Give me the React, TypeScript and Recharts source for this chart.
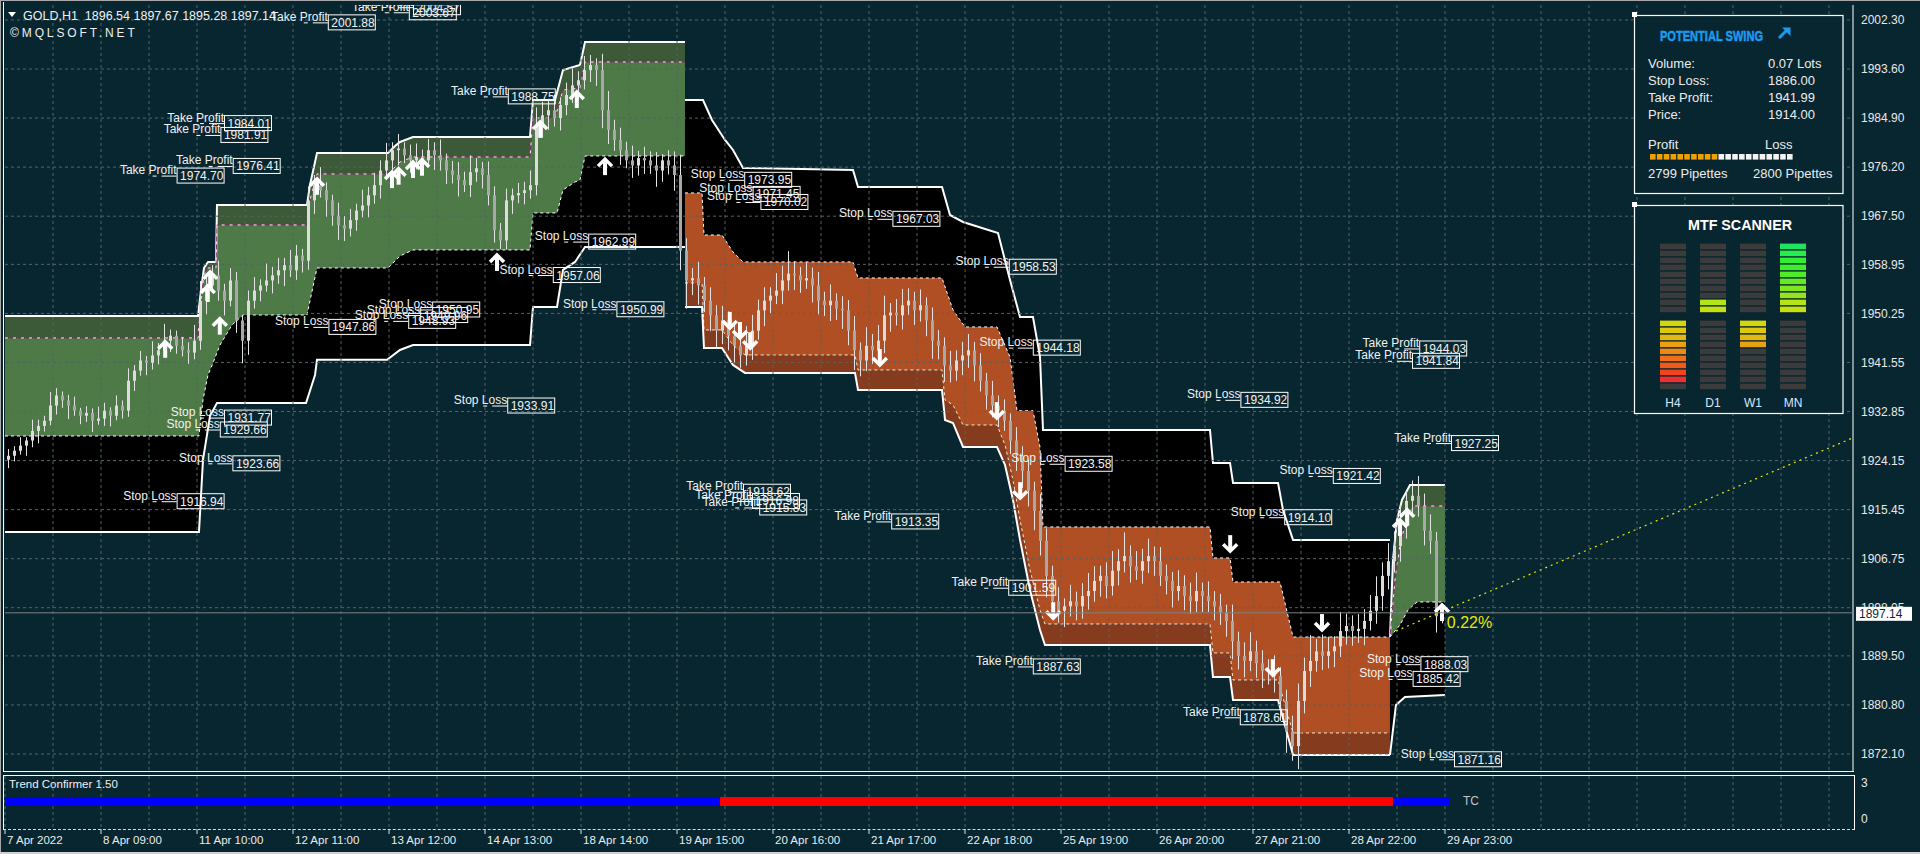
import React from "react";
import {
  Area,
  Bar,
  BarChart,
  CartesianGrid,
  ComposedChart,
  Line,
  ReferenceArea,
  ReferenceLine,
  Scatter,
  XAxis,
  YAxis,
} from "recharts";

// MT4 GOLD,H1 mit Swing-Indikator, Trend Confirmer und MTF Scanner

const BG = "#082630";
const FONT = "'Liberation Sans', Arial, sans-serif";
const W = 1920;
const MAIN_H = 775;

// ---- Achsen ----
const priceTicks = [2002.3, 1993.6, 1984.9, 1976.2, 1967.5, 1958.95, 1950.25, 1941.55, 1932.85, 1924.15, 1915.45, 1906.75, 1898.05, 1889.5, 1880.8, 1872.1];
const priceDomain = [1869.08, 2004.96];
const slotDomain = [-0.5, 307.5];
const slotCount = 308;
const timeLabels = ["7 Apr 2022", "8 Apr 09:00", "11 Apr 10:00", "12 Apr 11:00", "13 Apr 12:00", "14 Apr 13:00", "18 Apr 14:00", "19 Apr 15:00", "20 Apr 16:00", "21 Apr 17:00", "22 Apr 18:00", "25 Apr 19:00", "26 Apr 20:00", "27 Apr 21:00", "28 Apr 22:00", "29 Apr 23:00"];
const gridSlots = Array.from({ length: 39 }, (_, k) => k * 8 - 0.5);
const lastPrice = 1897.14;
const headerText = "GOLD,H1  1896.54 1897.67 1895.28 1897.14";

// ---- Kerzen (Open = vorheriger Close) ----
const firstOpen = 1924.3;
const closes = [
  1925.0, 1925.9, 1926.8, 1927.7, 1929.4, 1930.3, 1931.2, 1933.9, 1935.7, 1934.8,
  1933.9, 1933.0, 1932.1, 1932.6, 1931.2, 1931.6, 1933.0, 1932.1, 1933.9, 1933.0,
  1938.3, 1940.1, 1941.9, 1941.5, 1942.8, 1943.7, 1945.4, 1946.3, 1944.5, 1943.7,
  1943.3, 1945.4, 1952.5, 1955.2, 1957.0, 1954.3, 1952.5, 1956.1, 1949.0, 1945.4,
  1952.5, 1954.3, 1955.2, 1956.1, 1957.0, 1957.9, 1958.8, 1957.9, 1960.5, 1959.6,
  1970.3, 1973.0, 1972.1, 1970.3, 1967.6, 1965.9, 1965.3, 1966.8, 1968.5, 1969.4,
  1971.2, 1973.0, 1975.6, 1977.4, 1979.2, 1979.5, 1978.3, 1977.4, 1978.0, 1977.4,
  1979.2, 1978.3, 1977.4, 1975.6, 1974.8, 1973.9, 1973.0, 1975.3, 1976.0, 1974.8,
  1971.2, 1965.0, 1963.2, 1970.3, 1971.2, 1971.6, 1972.1, 1973.0, 1983.6, 1985.4,
  1986.3, 1984.9, 1987.2, 1989.0, 1990.7, 1991.6, 1993.4, 1994.3, 1993.4, 1986.3,
  1982.8, 1981.0, 1979.2, 1977.4, 1976.5, 1977.8, 1977.4, 1976.5, 1975.6, 1977.4,
  1976.5, 1974.8, 1961.4, 1956.1, 1956.5, 1955.2, 1952.5, 1949.9, 1947.2, 1949.0,
  1946.3, 1944.5, 1942.8, 1944.5, 1947.2, 1950.8, 1952.5, 1953.4, 1954.3, 1956.1,
  1957.3, 1957.0, 1956.1, 1956.5, 1955.2, 1952.5, 1951.7, 1952.5, 1951.1, 1950.8,
  1947.2, 1943.7, 1941.9, 1944.5, 1943.7, 1945.4, 1949.9, 1950.4, 1949.9, 1951.7,
  1952.5, 1950.8, 1951.7, 1949.0, 1945.4, 1944.5, 1941.0, 1940.1, 1941.9, 1942.8,
  1943.7, 1941.0, 1938.3, 1935.7, 1933.9, 1933.0, 1931.2, 1927.7, 1925.0, 1922.3,
  1918.8, 1915.2, 1909.9, 1903.7, 1899.2, 1897.5, 1898.3, 1899.2, 1898.3, 1900.1,
  1901.0, 1902.8, 1903.7, 1901.9, 1904.6, 1906.3, 1907.2, 1905.4, 1904.6, 1906.3,
  1907.2, 1906.3, 1903.7, 1902.8, 1901.0, 1901.9, 1900.1, 1899.2, 1901.0, 1900.1,
  1899.2, 1898.3, 1897.1, 1895.7, 1892.1, 1889.5, 1888.6, 1890.3, 1888.2, 1886.8,
  1887.1, 1885.9, 1881.5, 1876.1, 1873.5, 1881.5, 1886.8, 1888.6, 1890.3, 1889.5,
  1890.3, 1891.2, 1893.9, 1894.8, 1893.9, 1894.3, 1895.7, 1897.5, 1900.1, 1903.7,
  1906.3, 1909.0, 1913.4, 1917.0, 1917.9, 1916.1, 1911.7, 1909.9, 1896.54, 1897.14,
];
const wickUp = [
  1.2, 0.8, 1.5, 0.6, 2.0, 1.1, 0.9, 2.4, 1.3, 0.7, 1.0, 1.6, 0.5, 1.2, 0.8, 2.1, 1.4, 0.6, 1.8, 0.9,
  2.2, 1.0, 1.7, 0.8, 2.5, 1.3, 3.0, 1.1, 0.9, 1.6, 1.4, 2.8, 3.5, 2.0, 1.8, 2.6, 1.2, 2.2, 1.5, 1.0,
  1.8, 2.4, 1.1, 3.0, 1.5, 2.2, 1.3, 2.7, 1.9, 1.2, 2.5, 1.8, 3.2, 1.4, 1.0, 2.3, 1.6, 2.0, 1.2, 2.8,
  1.5, 2.2, 1.8, 3.1, 1.4, 2.6, 1.1, 1.9, 2.4, 1.3, 2.0, 1.4, 2.8, 1.2, 1.7, 2.3, 1.5, 3.0, 1.8, 1.1,
  2.4, 1.6, 1.3, 2.1, 1.2, 1.8, 1.5, 2.6, 3.2, 2.4, 1.9, 2.8, 1.4, 2.2, 3.0, 1.6, 2.5, 1.8, 1.2, 2.9,
  3.4, 1.8, 2.2, 1.5, 2.6, 1.3, 2.0, 1.6, 2.4, 1.1, 1.8, 2.5, 3.6, 2.2, 1.8, 2.9, 1.5, 2.4, 1.8, 2.6,
  1.6, 2.2, 1.4, 3.5, 2.8, 1.9, 2.4, 1.5, 3.1, 2.6, 4.0, 2.2, 1.5, 2.8, 1.9, 2.4, 1.6, 2.9, 1.3, 2.2,
  1.8, 2.6, 1.4, 3.3, 2.1, 2.8, 3.5, 1.7, 2.4, 2.9, 2.2, 1.6, 2.8, 1.4, 2.3, 1.9, 1.5, 2.6, 1.8, 2.4,
  2.9, 1.5, 2.2, 1.4, 2.6, 1.8, 2.0, 1.3, 2.4, 1.7, 2.1, 1.6, 3.0, 2.2, 1.8, 2.5, 1.4, 2.9, 1.7, 2.3,
  3.2, 2.6, 1.8, 2.4, 3.5, 2.1, 4.2, 1.9, 2.7, 2.2, 3.1, 1.7, 2.5, 2.0, 1.6, 2.8, 1.9, 2.4, 3.3, 1.5,
  2.6, 1.8, 2.2, 1.5, 2.9, 1.7, 2.4, 3.4, 1.9, 2.3, 1.8, 2.5, 1.6, 2.0, 2.8, 3.1, 2.4, 4.6, 2.2, 3.0,
  2.6, 1.8, 3.4, 2.2, 1.9, 2.6, 2.1, 2.8, 3.5, 2.4, 3.2, 2.6, 2.9, 1.8, 2.7, 3.5, 2.2, 2.9, 1.6, 0.53,
];
const wickDn = [
  1.5, 1.0, 0.7, 1.8, 1.2, 2.2, 1.0, 0.8, 1.6, 1.3, 2.4, 0.9, 1.5, 1.1, 2.0, 0.7, 1.3, 1.9, 0.8, 1.4,
  1.1, 1.8, 0.9, 2.2, 1.2, 1.6, 0.8, 2.0, 1.4, 1.1, 2.0, 1.2, 1.6, 2.4, 1.3, 1.8, 2.6, 1.0, 2.2, 4.0,
  2.5, 1.4, 1.9, 1.1, 2.3, 1.5, 2.8, 1.2, 1.7, 2.1, 1.6, 2.4, 1.3, 2.9, 1.8, 2.6, 2.2, 1.4, 1.9, 1.2,
  2.1, 1.5, 2.4, 1.2, 1.8, 2.7, 1.4, 2.2, 1.6, 2.5, 1.3, 2.6, 1.8, 2.4, 1.5, 2.9, 1.2, 2.1, 1.7, 2.4,
  1.8, 2.2, 1.5, 1.6, 2.4, 1.4, 2.0, 1.5, 1.8, 2.2, 2.6, 1.5, 2.2, 1.8, 1.4, 2.5, 1.6, 2.1, 2.8, 3.2,
  2.5, 1.9, 2.6, 1.4, 2.2, 1.8, 2.4, 1.5, 2.9, 2.0, 1.6, 2.8, 3.5, 5.0, 2.6, 3.4, 2.0, 2.8, 3.1, 2.4,
  2.6, 3.0, 2.2, 1.8, 2.5, 1.6, 2.8, 2.2, 1.5, 2.4, 1.8, 2.6, 2.2, 1.5, 3.0, 2.4, 1.9, 2.8, 2.0, 3.3,
  2.6, 3.5, 2.8, 1.9, 2.4, 1.6, 2.2, 2.9, 1.8, 2.5, 1.7, 2.6, 2.0, 2.8, 3.2, 2.4, 2.9, 2.1, 1.8, 2.6,
  2.2, 2.8, 1.9, 2.5, 2.1, 2.9, 1.8, 2.4, 2.7, 3.0, 2.8, 3.4, 2.6, 3.8, 2.4, 2.1, 2.9, 1.8, 2.5, 2.2,
  2.4, 1.9, 2.8, 2.2, 1.7, 2.6, 2.0, 2.9, 1.6, 2.3, 2.1, 2.6, 1.8, 2.4, 2.9, 1.7, 2.5, 2.2, 1.9, 2.8,
  1.9, 2.5, 2.1, 2.8, 3.2, 2.4, 2.9, 1.8, 2.6, 3.0, 2.4, 2.9, 3.5, 3.8, 2.6, 4.1, 2.2, 2.8, 1.9, 2.5,
  2.2, 2.8, 1.9, 2.4, 2.6, 2.1, 2.9, 1.7, 2.3, 2.6, 2.4, 2.0, 2.8, 3.1, 2.5, 1.9, 2.6, 2.3, 2.9, 1.26,
];

// ---- Swing-Bänder [slot, preis] ----
type Pt = [number, number];
// Aufwärts 1
const upTop1: Pt[] = [[-0.5, 1949.8], [31.67, 1949.8], [32.17, 1954.41], [32.67, 1958.31], [33.33, 1959.38], [34.67, 1959.38], [34.83, 1969.48], [49.83, 1969.48], [50.33, 1973.04], [51.5, 1978.71], [63.33, 1978.71], [64.5, 1979.95], [65.33, 1980.66], [67.5, 1981.55], [87, 1981.55], [87.5, 1988.11], [91.17, 1988.11], [92.5, 1993.43], [95.33, 1994.32], [96.17, 1998.4], [112.83, 1998.4]];
const upStrip1: Pt[] = [[-0.5, 1945.9], [31.67, 1945.9], [32.17, 1952.64], [32.67, 1957.07], [33.33, 1958.31], [34.67, 1958.31], [34.83, 1965.94], [49.83, 1965.94], [50.33, 1970.37], [51.5, 1974.99], [63.33, 1974.99], [65.33, 1977.11], [67.5, 1978.0], [87, 1978.0], [87.5, 1984.92], [91.17, 1984.92], [92.5, 1989.89], [95.33, 1990.24], [96.17, 1994.85], [112.83, 1994.85]];
const upEntry1: Pt[] = [[-0.5, 1928.51], [31.83, 1928.51], [32.5, 1934.9], [33.33, 1939.33], [34.17, 1941.46], [35.33, 1944.65], [37.33, 1948.2], [39.17, 1949.97], [49.83, 1949.97], [51.5, 1958.31], [63.33, 1958.31], [65.33, 1960.44], [67.5, 1961.51], [87, 1961.51], [87.5, 1968.07], [91.5, 1968.07], [92.5, 1972.15], [94.5, 1973.57], [95.33, 1973.92], [96.17, 1978.18], [112.83, 1978.18]];
const upStop1: Pt[] = [[-0.5, 1911.48], [31.83, 1911.48], [32.5, 1924.26], [33.67, 1932.09], [34.83, 1934.37], [49.67, 1934.37], [51.17, 1939.33], [51.5, 1942.01], [63.17, 1942.01], [65.33, 1943.77], [67.5, 1944.65], [87, 1944.65], [87.5, 1951.39], [91.5, 1951.39], [92.5, 1957.96], [94.5, 1959.38], [96.17, 1962.04], [112.83, 1962.04]];
// Abwärts 2
const dnStop2: Pt[] = [[112.83, 1988.11], [115.83, 1988.11], [117.33, 1984.56], [119.5, 1981.02], [120.83, 1979.24], [122.5, 1976.05], [140.83, 1975.7], [141.67, 1972.68], [155.67, 1972.68], [157, 1967.71], [159.17, 1966.47], [165, 1964.52], [167, 1956.18], [168.67, 1949.62], [170.83, 1949.62], [172, 1942.53], [172.5, 1929.57], [200.33, 1929.57], [200.83, 1923.72], [203.67, 1923.72], [204.17, 1920.18], [211.67, 1920.18], [212.5, 1915.38], [214.17, 1910.07], [230.33, 1910.07]];
const dnEntry2: Pt[] = [[112.83, 1971.62], [115.67, 1971.62], [116, 1964.16], [119, 1964.16], [120.83, 1961.15], [122.5, 1959.38], [140.83, 1959.38], [141.67, 1956.54], [155.67, 1956.54], [157.5, 1950.86], [159.5, 1947.85], [164.83, 1947.85], [167, 1942.53], [168.17, 1932.98], [170.83, 1932.98], [172, 1926.56], [172.5, 1912.37], [200.33, 1912.37], [200.83, 1906.87], [203.67, 1906.87], [204.17, 1902.61], [212, 1902.61], [214.17, 1892.85], [230.33, 1892.85]];
const dnStrip2: Pt[] = [[112.83, 1955.65], [115.67, 1955.65], [116, 1947.32], [119, 1947.32], [120.83, 1944.65], [122.83, 1942.88], [141.17, 1942.88], [141.67, 1940.22], [155.67, 1940.22], [156.17, 1934.9], [157.5, 1934.01], [159.17, 1930.46], [164.83, 1930.46], [166.17, 1926.92], [167.5, 1920.71], [168.67, 1913.62], [170.33, 1904.75], [172, 1897.64], [172.83, 1895.16], [200.33, 1895.16], [200.83, 1890.02], [203.67, 1890.02], [204.17, 1885.23], [211.67, 1885.23], [214.17, 1875.83], [230.33, 1875.83]];
const dnBase2: Pt[] = [[112.83, 1951.39], [115.67, 1951.39], [116, 1944.12], [119, 1944.12], [120.83, 1941.11], [122.83, 1939.69], [141.17, 1939.69], [141.67, 1936.67], [155.67, 1936.67], [156.17, 1931.35], [157.5, 1930.82], [159.17, 1926.56], [164.83, 1926.56], [166.17, 1923.37], [167.5, 1917.16], [168.67, 1910.07], [170.33, 1901.19], [172, 1894.1], [172.83, 1891.43], [200.33, 1891.43], [200.83, 1885.76], [203.67, 1885.76], [204.17, 1881.68], [211.67, 1881.68], [214.17, 1871.93], [230.33, 1871.93]];
// Aufwärts 3
const upTop3: Pt[] = [[230.33, 1892.85], [230.83, 1906.52], [231.5, 1913.62], [232.33, 1917.16], [233.67, 1919.82], [239.5, 1919.82]];
const upStrip3: Pt[] = [[230.33, 1892.85], [231.17, 1902.97], [232, 1909.18], [232.83, 1912.72], [234.17, 1916.09], [239.5, 1916.09]];
const upEntry3: Pt[] = [[230.33, 1892.85], [232, 1894.98], [233.33, 1897.64], [234.83, 1899.06], [239.5, 1899.06]];
const upStop3: Pt[] = [[230.33, 1871.93], [230.83, 1876.36], [231.33, 1880.8], [232.83, 1882.22], [239.5, 1882.57]];

const projection: Pt[] = [[231.33, 1893.92], [307.5, 1928.19]];

// ---- Pfeile und Level-Beschriftungen ----
const upArrows: Pt[] = [[26.2, 1943.8], [33.7, 1956.2], [33.3, 1953.7], [35.3, 1947.9], [51.5, 1972.7], [64.0, 1973.9], [65.1, 1974.5], [67.5, 1975.7], [69.0, 1976.1], [81.5, 1959.2], [88.7, 1982.8], [94.8, 1988.1], [99.5, 1976.2], [232.0, 1912.2], [233.2, 1914.0], [239.0, 1897.1]];
const downArrows: Pt[] = [[120.3, 1949.1], [122.0, 1947.3], [123.7, 1945.5], [145.3, 1942.5], [164.8, 1933.1], [168.7, 1918.9], [174.2, 1897.6], [203.7, 1909.5], [210.8, 1887.5], [219.0, 1895.5]];
const takeProfits: Pt[] = [[53.3, 2001.88], [67.5, 2004.57], [66.8, 2003.67], [36.0, 1984.01], [35.4, 1981.91], [37.45, 1976.41], [28.1, 1974.7], [83.3, 1988.75], [122.5, 1918.62], [124.0, 1916.98], [125.2, 1915.83], [147.2, 1913.35], [166.7, 1901.59], [170.8, 1887.63], [205.3, 1878.61], [235.2, 1944.03], [234.0, 1941.84], [240.5, 1927.25]];
const stopLosses: Pt[] = [[96.7, 1962.99], [90.8, 1957.06], [101.4, 1950.99], [53.4, 1947.86], [70.7, 1950.95], [68.7, 1949.96], [66.7, 1948.93], [83.2, 1933.91], [36.0, 1931.77], [35.3, 1929.66], [37.4, 1923.66], [28.1, 1916.94], [122.7, 1973.95], [124.1, 1971.45], [125.4, 1970.02], [147.4, 1967.03], [166.8, 1958.53], [170.8, 1944.18], [205.4, 1934.92], [176.1, 1923.58], [220.8, 1921.42], [212.7, 1914.1], [235.4, 1888.03], [234.1, 1885.42], [241.0, 1871.16]];
const changeLabel = { x: 239.8, y: 1894.45, text: "0.22%" };

// ---- Trend Confirmer: [von, bis, richtung] ----
const trendRuns = [[-0.5, 118.67, 1], [118.67, 230.83, -1], [230.83, 240.17, 1]];

// ---- Panels ----
const swingRows = [["Volume:", "0.07 Lots"], ["Stop Loss:", "1886.00"], ["Take Profit:", "1941.99"], ["Price:", "1914.00"]];
const profitPipettes = 2799;
const lossPipettes = 2800;
const profitCells = 10;
const lossCells = 11;
const scannerFrames = ["H4", "D1", "W1", "MN"];
const scannerStrength = [-9, 2, -4, 10];

const UP_COLORS = ["#c6e010", "#b2e416", "#98e41c", "#80e620", "#66e824", "#50ec28", "#3ef02c", "#30f036", "#26ec4c", "#20e460"];
const DN_COLORS = ["#d6d60c", "#dec810", "#e4b810", "#eaa014", "#ee8818", "#f0701a", "#f05a1c", "#f0441e", "#f03030", "#e02828"];

const toXY = (a: Pt[]) => a.map(([x, y]) => ({ x, y }));

const candleRows = Array.from({ length: slotCount }, (_, i) => {
  if (i >= closes.length) return { i };
  const o = i === 0 ? firstOpen : closes[i - 1];
  const c = closes[i];
  return { i, o, c, h: Math.max(o, c) + wickUp[i], l: Math.min(o, c) - wickDn[i] };
});

const bandFills = [
  { id: "t1", pts: upTop1, fill: "#3c5a37" },
  { id: "p1", pts: upStrip1, fill: "#4e7a48" },
  { id: "g1", pts: upEntry1, fill: "#000000" },
  { id: "s1", pts: upStop1, fill: BG },
  { id: "s2", pts: dnStop2, fill: "#000000" },
  { id: "o2", pts: dnEntry2, fill: "#b04e24" },
  { id: "d2", pts: dnStrip2, fill: "#853c1e" },
  { id: "b2", pts: dnBase2, fill: BG },
  { id: "t3", pts: upTop3, fill: "#3c5a37" },
  { id: "p3", pts: upStrip3, fill: "#4e7a48" },
  { id: "g3", pts: upEntry3, fill: "#000000" },
  { id: "s3", pts: upStop3, fill: BG },
];

const bandLines = [
  { id: "t1", pts: upTop1, stroke: "#ffffff", w: 2 },
  { id: "p1a", pts: upStrip1, stroke: "#8c2a6c", w: 1 },
  { id: "p1b", pts: upStrip1, stroke: "#f0f0f0", w: 1, dash: "3 5" },
  { id: "g1", pts: upEntry1, stroke: "#ffffff", w: 1, dash: "3 3" },
  { id: "s1", pts: upStop1, stroke: "#ffffff", w: 2 },
  { id: "s2", pts: dnStop2, stroke: "#ffffff", w: 2 },
  { id: "o2", pts: dnEntry2, stroke: "#ffffff", w: 1, dash: "3 3" },
  { id: "d2", pts: dnStrip2, stroke: "#e8eed8", w: 1, dash: "3 3" },
  { id: "b2", pts: dnBase2, stroke: "#ffffff", w: 2 },
  { id: "t3", pts: upTop3, stroke: "#ffffff", w: 2 },
  { id: "p3a", pts: upStrip3, stroke: "#8c2a6c", w: 1 },
  { id: "p3b", pts: upStrip3, stroke: "#f0f0f0", w: 1, dash: "3 5" },
  { id: "g3", pts: upEntry3, stroke: "#ffffff", w: 1, dash: "3 3" },
  { id: "s3", pts: upStop3, stroke: "#ffffff", w: 2 },
];

const arrowMarks = [
  ...upArrows.map(([x, y]) => ({ x, y, dir: 1 })),
  ...downArrows.map(([x, y]) => ({ x, y, dir: -1 })),
];
const levelMarks = [
  ...takeProfits.map(([x, y]) => ({ x, y, kind: "Take Profit" })),
  ...stopLosses.map(([x, y]) => ({ x, y, kind: "Stop Loss" })),
];

const scannerRows = scannerFrames.map((frame, c) => {
  const row: any = { frame, strength: scannerStrength[c] };
  for (let b = 0; b < 21; b++) row[`seg${b}`] = 1;
  return row;
});

// segment k von oben: 0..9 obere Gruppe, 10 Lücke, 11..20 untere Gruppe
const segColor = (strength: number, k: number) => {
  if (k === 10) return "none";
  if (k < 10) {
    const j = 9 - k;
    return j < strength ? UP_COLORS[j] : "#3b3b3b";
  }
  const j = k - 11;
  return j < -strength ? DN_COLORS[j] : "#3b3b3b";
};

const Candle = (props: any) => {
  const { x, y, width, height, payload } = props;
  if (!payload || payload.h == null || !isFinite(y) || !isFinite(height)) return <g />;
  const top = Math.min(y, y + height);
  const bot = Math.max(y, y + height);
  const span = payload.h - payload.l;
  const py = (p: number) => top + ((payload.h - p) / span) * (bot - top);
  const cx = Math.round(x + width / 2) + 0.5;
  const yo = py(payload.o);
  const yc = py(payload.c);
  const bt = Math.min(yo, yc);
  const bh = Math.max(1, Math.abs(yo - yc));
  const bull = payload.c >= payload.o;
  return (
    <g>
      <line x1={cx} x2={cx} y1={top} y2={bot} stroke="#e4e4e4" strokeWidth={1} />
      <rect x={cx - 1.5} y={bt} width={3} height={bh} fill={bull ? "#dcdcdc" : "#a8a8a8"} />
    </g>
  );
};

const ArrowMark = (props: any) => {
  const { cx, cy, payload } = props;
  if (cx == null || cy == null) return <g />;
  const s = payload.dir > 0 ? -1 : 1;
  const tip = cy + s * 8;
  return (
    <g>
      <line x1={cx} x2={cx} y1={cy - s * 8} y2={tip - s * 2} stroke="#ffffff" strokeWidth={4} />
      <path d={`M${cx - 7},${cy + s * 1} L${cx},${tip} L${cx + 7},${cy + s * 1}`} fill="none" stroke="#ffffff" strokeWidth={3.5} />
    </g>
  );
};

const LevelLabel = (props: any) => {
  const { cx, cy, payload } = props;
  if (cx == null || cy == null) return <g />;
  return (
    <g fontFamily={FONT} fontSize={12} fill="#f2f2f2">
      <text x={cx} y={cy - 1.5} textAnchor="end">{payload.kind}</text>
      <line x1={cx - 24} x2={cx} y1={cy + 0.5} y2={cy + 0.5} stroke="#ffffff" strokeDasharray="4 5 15" />
      <rect x={cx + 0.5} y={cy - 7.5} width={47} height={15} fill="none" stroke="#ffffff" />
      <text x={cx + 3.5} y={cy + 4.5}>{payload.y.toFixed(2)}</text>
    </g>
  );
};

const ChangeText = (props: any) => {
  const { cx, cy, payload } = props;
  if (cx == null || cy == null) return <g />;
  return (
    <text x={cx} y={cy} fill="#e8e800" fontSize={16} fontFamily={FONT}>{payload.text}</text>
  );
};

const PriceTag = (props: any) => {
  const vb = props.viewBox;
  if (!vb) return null;
  const x = vb.x + vb.width + 3;
  return (
    <g>
      <rect x={x} y={vb.y - 6} width={56} height={14} fill="#ffffff" />
      <text x={x + 3} y={vb.y + 5} fontSize={12} fill="#0c1f44" fontFamily={FONT}>{lastPrice.toFixed(2)}</text>
    </g>
  );
};

// Rasterticks alle 8 Slots, beschriftet wird jeder zweite
const TimeTick = (props: any) => {
  const { x, y, payload } = props;
  const step = (payload.value + 0.5) / 8;
  if (Math.round(step) % 2 !== 0) return <g />;
  const label = timeLabels[Math.round(step) / 2];
  if (!label) return <g />;
  return (
    <g>
      <line x1={x} x2={x} y1={y} y2={y + 5} stroke="#e0e0e0" />
      <text x={x + 2} y={y + 15} fill="#ececec" fontSize={11.5} fontFamily={FONT}>{label}</text>
    </g>
  );
};

const layer = (top: number, z: number): React.CSSProperties => ({ position: "absolute", left: 0, top, zIndex: z });
const mainMargin = { top: 5, right: 67, bottom: 4, left: 5 };

export default function App() {
  return (
    <div style={{ position: "absolute", left: 0, top: 0, width: W, height: 854, background: BG, overflow: "hidden", fontFamily: FONT }}>
      {/* Bänder */}
      <div style={layer(0, 1)}>
        <ComposedChart width={W} height={MAIN_H} margin={mainMargin}>
          <XAxis type="number" dataKey="x" domain={slotDomain} allowDataOverflow hide />
          <YAxis type="number" dataKey="y" domain={priceDomain} allowDataOverflow hide />
          {bandFills.map((b) => (
            <Area key={`f-${b.id}`} data={toXY(b.pts)} dataKey="y" type="linear" fill={b.fill} fillOpacity={1} stroke="none" baseValue="dataMin" isAnimationActive={false} />
          ))}
          {bandLines.map((b) => (
            <Line key={`l-${b.id}`} data={toXY(b.pts)} dataKey="y" type="linear" stroke={b.stroke} strokeWidth={b.w} strokeDasharray={b.dash} dot={false} activeDot={false} isAnimationActive={false} />
          ))}
        </ComposedChart>
      </div>

      {/* Raster */}
      <div style={layer(0, 2)}>
        <ComposedChart width={W} height={MAIN_H} margin={mainMargin}>
          <XAxis type="number" dataKey="x" domain={slotDomain} ticks={gridSlots} allowDataOverflow hide />
          <YAxis type="number" dataKey="y" domain={priceDomain} ticks={priceTicks} allowDataOverflow hide />
          <CartesianGrid stroke="#55636a" strokeDasharray="3 3" horizontalValues={priceTicks} verticalValues={gridSlots} />
        </ComposedChart>
      </div>

      {/* Kerzen */}
      <div style={layer(0, 3)}>
        <ComposedChart width={W} height={MAIN_H} data={candleRows} margin={mainMargin} barCategoryGap={0} barGap={0}>
          <XAxis dataKey="i" hide />
          <YAxis type="number" domain={priceDomain} allowDataOverflow hide />
          <Bar dataKey={(r: any) => (r.h == null ? null : [r.l, r.h])} shape={<Candle />} isAnimationActive={false} />
        </ComposedChart>
      </div>

      {/* Pfeile, Level, Preisachse */}
      <div style={layer(0, 4)}>
        <ComposedChart width={W} height={MAIN_H} margin={{ top: 5, right: 0, bottom: 4, left: 5 }}>
          <XAxis type="number" dataKey="x" domain={slotDomain} allowDataOverflow hide />
          <YAxis
            type="number"
            dataKey="y"
            orientation="right"
            width={67}
            domain={priceDomain}
            allowDataOverflow
            ticks={priceTicks}
            interval={0}
            tickFormatter={(v: number) => v.toFixed(2)}
            tick={{ fill: "#e8e8e8", fontSize: 12, fontFamily: FONT }}
            axisLine={{ stroke: "#ffffff" }}
            tickLine={false}
            tickSize={6}
            tickMargin={2}
          />
          <Line data={toXY(projection)} dataKey="y" type="linear" stroke="#e6e600" strokeWidth={1.2} strokeDasharray="2 4" dot={false} activeDot={false} isAnimationActive={false} />
          <Scatter data={levelMarks} shape={(p: any) => <LevelLabel {...p} />} isAnimationActive={false} />
          <Scatter data={arrowMarks} shape={(p: any) => <ArrowMark {...p} />} isAnimationActive={false} />
          <Scatter data={[changeLabel]} shape={(p: any) => <ChangeText {...p} />} isAnimationActive={false} />
        </ComposedChart>
      </div>

      {/* aktuelle Preislinie mit Marke, über den Achsentexten */}
      <div style={layer(0, 5)}>
        <ComposedChart width={W} height={MAIN_H} margin={mainMargin}>
          <XAxis type="number" dataKey="x" domain={slotDomain} allowDataOverflow hide />
          <YAxis type="number" dataKey="y" domain={priceDomain} allowDataOverflow hide />
          <ReferenceLine y={lastPrice} stroke="#7c8286" label={(p: any) => <PriceTag {...p} />} />
        </ComposedChart>
      </div>

      {/* Unterfenster Trend Confirmer + Zeitachse */}
      <div style={layer(775, 4)}>
        <ComposedChart width={W} height={79} margin={{ top: 1, right: 0, bottom: 0, left: 5 }}>
          <XAxis type="number" dataKey="x" domain={slotDomain} allowDataOverflow ticks={gridSlots} interval={0} tick={<TimeTick />} tickLine={false} axisLine={false} tickSize={0} tickMargin={0} height={25} />
          <YAxis type="number" orientation="right" width={67} domain={[-0.833, 3.583]} allowDataOverflow ticks={[0, 3]} interval={0} tick={{ fill: "#e8e8e8", fontSize: 12, fontFamily: FONT }} axisLine={false} tickLine={false} tickSize={6} tickMargin={2} />
          <CartesianGrid horizontal={false} stroke="#55636a" strokeDasharray="3 3" verticalValues={gridSlots} />
          {trendRuns.map(([from, to, dir], k) => (
            <ReferenceArea key={`tr-${k}`} x1={from} x2={to} y1={1.08} y2={1.83} fill={dir > 0 ? "#0000ff" : "#ff0000"} fillOpacity={1} stroke="none" ifOverflow="visible" />
          ))}
        </ComposedChart>
      </div>

      {/* Rahmen */}
      <div style={{ position: "absolute", left: 0, top: 0, width: W - 1, height: 851, borderTop: "1px solid #a8a8a8", borderLeft: "1px solid #a8a8a8", zIndex: 6, pointerEvents: "none" }} />
      <div style={{ position: "absolute", left: 0, top: 852, width: W, height: 2, background: "#d0d0d0", zIndex: 6 }} />
      <div style={{ position: "absolute", left: 3, top: 2, width: 1850, height: 769, borderLeft: "1px solid #ffffff", borderBottom: "1px solid #ffffff", zIndex: 6, pointerEvents: "none" }} />
      <div style={{ position: "absolute", left: 3, top: 775, width: 1850, height: 53, border: "1px solid #ffffff", borderBottom: "1px dashed #dddddd", zIndex: 6, pointerEvents: "none" }} />

      {/* Texte und Panels */}
      <svg width={W} height={854} style={{ position: "absolute", left: 0, top: 0, zIndex: 7, pointerEvents: "none" }} fontFamily={FONT}>
        <polygon points="8,12 16,12 12,17" fill="#ffffff" />
        <text x={23} y={19.5} fontSize={12.5} fill="#f0f0f0" style={{ whiteSpace: "pre" }}>{headerText}</text>
        <text x={10} y={36.5} fontSize={12} fill="#f0f0f0" letterSpacing={2.9}>©MQLSOFT.NET</text>

        <text x={9} y={788} fontSize={11.5} fill="#f0f0f0">Trend Confirmer 1.50</text>
        <text x={1463} y={805} fontSize={12} fill="#c4c4c4">TC</text>

        {/* POTENTIAL SWING */}
        <rect x={1634.5} y={15.5} width={208.5} height={178} fill={BG} stroke="#ffffff" strokeWidth={1.2} />
        <rect x={1632} y={12} width={5} height={5} fill="#ffffff" />
        <text x={1660} y={40.5} fontSize={15} fontWeight="bold" fill="#1c9cf0" stroke="#1c9cf0" strokeWidth={0.5} textLength={103} lengthAdjust="spacingAndGlyphs">POTENTIAL SWING</text>
        <line x1={1779} y1={38} x2={1787} y2={30} stroke="#1c9cf0" strokeWidth={3} />
        <polygon points="1782,27.5 1790.5,27.5 1790.5,36" fill="#1c9cf0" />
        {swingRows.map(([label, value], k) => (
          <g key={label} fontSize={13} fill="#ececec">
            <text x={1648} y={68 + k * 17}>{label}</text>
            <text x={1768} y={68 + k * 17}>{value}</text>
          </g>
        ))}
        <text x={1648} y={149} fontSize={13} fill="#ececec">Profit</text>
        <text x={1765} y={149} fontSize={13} fill="#ececec">Loss</text>
        {Array.from({ length: profitCells + lossCells }, (_, k) => (
          <rect key={`c${k}`} x={1650 + k * 6.85} y={154} width={5.6} height={5.6} fill={k < profitCells ? "#f0a000" : "#f4f4f4"} />
        ))}
        <text x={1648} y={177.5} fontSize={13} fill="#ececec">{`${profitPipettes} Pipettes`}</text>
        <text x={1753} y={177.5} fontSize={13} fill="#ececec">{`${lossPipettes} Pipettes`}</text>

        {/* MTF SCANNER */}
        <rect x={1634.5} y={205.5} width={208.5} height={208} fill={BG} stroke="#ffffff" strokeWidth={1.2} />
        <rect x={1632} y={202} width={5} height={5} fill="#ffffff" />
        <text x={1688} y={229.5} fontSize={14.5} fontWeight="bold" fill="#ffffff" textLength={104} lengthAdjust="spacingAndGlyphs">MTF SCANNER</text>
      </svg>

      <div style={{ position: "absolute", left: 1653, top: 243, zIndex: 8 }}>
        <BarChart width={160} height={167} data={scannerRows} margin={{ top: 0, right: 0, bottom: 0, left: 0 }} barSize={26} barCategoryGap={0}>
          <XAxis dataKey="frame" axisLine={false} tickLine={false} height={20} tick={{ fill: "#dde6ff", fontSize: 12, fontFamily: FONT }} interval={0} />
          <YAxis hide domain={[0, 21]} />
          {Array.from({ length: 21 }, (_, b) => {
            const k = 20 - b;
            return (
              <Bar
                key={`seg${b}`}
                dataKey={`seg${b}`}
                stackId="s"
                isAnimationActive={false}
                shape={(p: any) => (
                  <rect x={p.x} y={p.y + 0.6} width={p.width} height={Math.max(0, p.height - 1.4)} fill={segColor(p.payload.strength, k)} />
                )}
              />
            );
          })}
        </BarChart>
      </div>
    </div>
  );
}
